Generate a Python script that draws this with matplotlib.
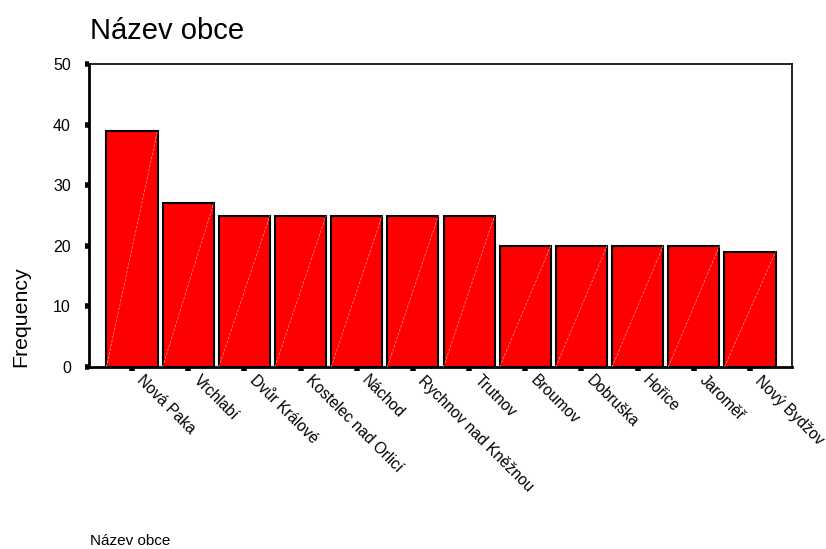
import matplotlib
matplotlib.use("Agg")
import matplotlib.pyplot as plt
import matplotlib.transforms as mtransforms
import numpy as np

categories = ["Nová Paka", "Vrchlabí", "Dvůr Králové", "Kostelec nad Orlicí", "Náchod",
              "Rychnov nad Kněžnou", "Trutnov", "Broumov", "Dobruška", "Hořice",
              "Jaroměř", "Nový Bydžov"]
values = [39, 27, 25, 25, 25, 25, 25, 20, 20, 20, 20, 19]
yticks = [0, 10, 20, 30, 40, 50]

plt.rcParams['font.family'] = ['Liberation Sans', 'DejaVu Sans']

fig = plt.figure(figsize=(8.26, 5.49), dpi=100)
ax = fig.add_axes([89/826, 1-367/549, (792-89)/826, (367-64)/549])

x = np.arange(len(categories))
w = 0.91
bars = ax.bar(x, values, width=w, color='#ff0000', edgecolor='black', linewidth=1.5, zorder=2)
for b in bars:
    x0 = b.get_x(); x1 = x0 + b.get_width(); h = b.get_height()
    ax.plot([x0, x1], [0, h], color='#ff9a9a', lw=0.5, ls=(0, (4, 2)), zorder=3)

ax.set_xlim(-0.765, len(categories) - 1 + 0.747)
ax.set_ylim(0, 50)
ax.set_yticks(yticks)
ax.set_yticklabels([str(t) for t in yticks], fontsize=11.5)
ax.set_xticks(x)
ax.set_xticklabels([])
offset = mtransforms.ScaledTranslation(13/100, -6/100, fig.dpi_scale_trans)
trans = ax.get_xaxis_transform() + offset
for xi, name in zip(x, categories):
    ax.text(xi, 0, name, transform=trans, rotation=-45, ha='left', va='top',
            rotation_mode='anchor', fontsize=11.2, clip_on=False)
ax.tick_params(axis='both', direction='out', length=3, width=4, color='black')
ax.tick_params(axis='y', pad=10)

ax.spines['left'].set_linewidth(2)
ax.spines['bottom'].set_linewidth(2)
ax.spines['top'].set_linewidth(1.2)
ax.spines['right'].set_linewidth(1.2)

fig.text(90/826, 1-31/549, "Název obce", fontsize=21, ha='left', va='center')
fig.text(90/826, 1-541/549, "Název obce", fontsize=11, ha='left', va='center')
fig.text(21/826, 1-317/549, "Frequency", fontsize=15.3, rotation=90, ha='center', va='center')

fig.savefig("out.png", dpi=100)
